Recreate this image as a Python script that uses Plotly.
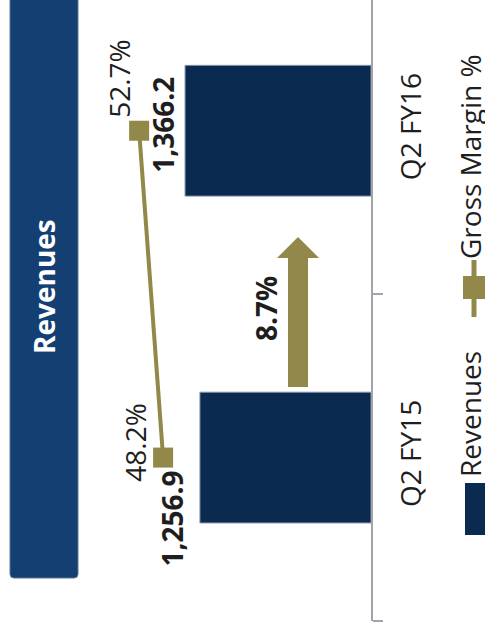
import plotly.graph_objects as go

# ---- data ----
categories = ["Q2 FY15", "Q2 FY16"]
revenues = [1256.9, 1366.2]
revenue_labels = ["1,256.9", "1,366.2"]
gross_margin = [48.2, 52.7]
margin_labels = ["48.2%", "52.7%"]
title_text = "Revenues"
legend_names = ["Revenues", "Gross Margin %"]

growth = (revenues[1] / revenues[0] - 1) * 100
growth_label = f"{growth:.1f}%"

# ---- styles ----
NAVY = "#0b2a4f"
BANNER = "#133f73"
OLIVE = "#928849"
AXIS = "#a3a3ab"
TXT = "#1e1e1e"
FONT = "Open Sans"
FS = 28
GX = 0  # glyph-vs-box offset for rotated text

W, H = 485, 634
L, R, T, B = 0, 114, 0, 13
PW, PH = W - L - R, H - T - B


def px(x):
    return (x + GX - L) / PW


def py(y):
    return (H - B - y) / PH


def pxs(x):
    return (x - L) / PW


def note(x, y, text, color=TXT, **kw):
    d = dict(x=x, y=y, text=text, showarrow=False, textangle=-90,
             xanchor="center", yanchor="middle",
             font=dict(family=FONT, size=FS, color=color))
    d.update(kw)
    return d


fig = go.Figure()

fig.add_trace(go.Bar(
    y=categories, x=revenues, orientation="h",
    marker=dict(color=NAVY, line=dict(color="#8592a6", width=1)),
    width=0.4, name=legend_names[0], showlegend=False,
    xaxis="x", yaxis="y",
))

fig.add_trace(go.Scatter(
    y=categories, x=gross_margin, mode="lines+markers",
    line=dict(color=OLIVE, width=4),
    marker=dict(symbol="square", size=20, color=OLIVE),
    name=legend_names[1], showlegend=False,
    xaxis="x2", yaxis="y",
))

annotations = []
rev_shift = [(-28, -61), (-22, 6)]
for c, v, t, (dx, dy) in zip(categories, revenues, revenue_labels, rev_shift):
    annotations.append(note(v, c, f"<b>{t}</b>", xref="x", yref="y", xshift=dx + GX, yshift=dy))
gm_shift = [(-29, 15), (-20, 52)]
for c, v, t, (dx, dy) in zip(categories, gross_margin, margin_labels, gm_shift):
    annotations.append(note(v, c, t, xref="x2", yref="y", xshift=dx + GX, yshift=dy))

# growth arrow (decoration)
ax_c, ax_half_shaft, ax_half_head = 298, 10, 21
ay_bot, ay_head, ay_tip = 387, 258, 237
arrow_path = (f"M {pxs(ax_c-ax_half_shaft)} {py(ay_bot)} L {pxs(ax_c+ax_half_shaft)} {py(ay_bot)} "
              f"L {pxs(ax_c+ax_half_shaft)} {py(ay_head)} L {pxs(ax_c+ax_half_head)} {py(ay_head)} "
              f"L {pxs(ax_c)} {py(ay_tip)} L {pxs(ax_c-ax_half_head)} {py(ay_head)} "
              f"L {pxs(ax_c-ax_half_shaft)} {py(ay_head)} Z")
shapes = [dict(type="path", xref="paper", yref="paper", path=arrow_path,
               fillcolor=OLIVE, line=dict(width=0), layer="above")]
annotations.append(note(px(266), py(309), f"<b>{growth_label}</b>", xref="paper", yref="paper"))

# title banner
bx0, bx1, by0, by1, r = 10, 78, -10, 578, 4
banner_path = (f"M {pxs(bx0)} {py(by0)} L {pxs(bx1)} {py(by0)} L {pxs(bx1)} {py(by1-r)} "
               f"Q {pxs(bx1)} {py(by1)} {pxs(bx1-r)} {py(by1)} L {pxs(bx0+r)} {py(by1)} "
               f"Q {pxs(bx0)} {py(by1)} {pxs(bx0)} {py(by1-r)} Z")
shapes.append(dict(type="path", xref="paper", yref="paper", path=banner_path,
                   fillcolor=BANNER, line=dict(color="#5d7393", width=1), layer="below"))
annotations.append(note(px(44), py(287), f"<b>{title_text}</b>", color="white",
                        xref="paper", yref="paper"))

# legend (rotated, drawn manually)
shapes.append(dict(type="rect", xref="paper", yref="paper",
                   x0=pxs(465), x1=pxs(492), y0=py(535), y1=py(483),
                   fillcolor=NAVY, line=dict(width=0)))
shapes.append(dict(type="line", xref="paper", yref="paper",
                   x0=pxs(474), x1=pxs(474), y0=py(317), y1=py(260),
                   line=dict(color=OLIVE, width=5)))
shapes.append(dict(type="rect", xref="paper", yref="paper",
                   x0=pxs(463), x1=pxs(486), y0=py(299), y1=py(276),
                   fillcolor=OLIVE, line=dict(width=0)))
annotations.append(note(px(470), py(414), legend_names[0], xref="paper", yref="paper"))
annotations.append(note(px(470), py(157), legend_names[1], xref="paper", yref="paper"))

fig.update_layout(
    width=W, height=H,
    margin=dict(l=L, r=R, t=T, b=B),
    paper_bgcolor="white", plot_bgcolor="white",
    showlegend=False,
    xaxis=dict(range=[2726, 0], showgrid=False, zeroline=False, showticklabels=False,
               showline=False, ticks=""),
    xaxis2=dict(range=[78.8, 9.2], overlaying="x", showgrid=False, zeroline=False,
                showticklabels=False, showline=False, ticks=""),
    yaxis=dict(type="category", categoryorder="array", categoryarray=categories,
               range=[-0.5, 1.4], side="right", showgrid=False, zeroline=False,
               showline=True, linecolor=AXIS, linewidth=2,
               ticks="outside", ticklen=10, tickwidth=2, tickcolor=AXIS,
               tickson="boundaries", tickangle=-90, ticklabelstandoff=14,
               tickfont=dict(family=FONT, size=FS, color=TXT)),
    shapes=shapes, annotations=annotations,
)

fig.write_html("out.html")
